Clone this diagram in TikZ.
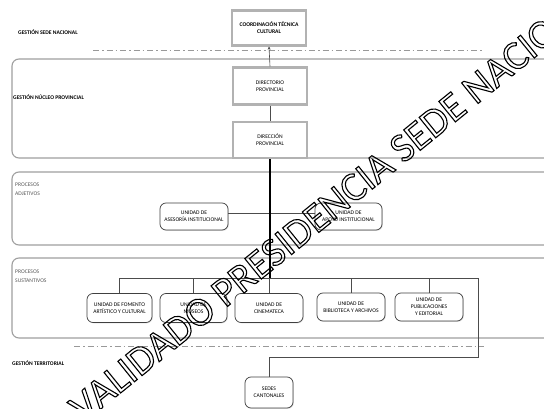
\documentclass[tikz,border=0pt]{standalone}
\usepackage{fontspec}
\setmainfont{Carlito}
\usetikzlibrary{shadows,arrows.meta}
\begin{document}
\begin{tikzpicture}[x=1pt,y=-1pt,
  hdr/.style={draw=gray!60, line width=2.2pt, fill=white, minimum width=74pt, minimum height=35pt,
    inner sep=1pt, align=center, font=\fontsize{5.6}{7}\selectfont,
    drop shadow={shadow xshift=1.2pt, shadow yshift=-1.2pt, opacity=0.35}},
  unit/.style={draw=black!75, line width=0.7pt, rounded corners=6pt, fill=white, minimum width=67pt,
    minimum height=29pt, inner sep=1pt, align=center, font=\fontsize{5.6}{7}\selectfont,
    drop shadow={shadow xshift=0.8pt, shadow yshift=-0.8pt, opacity=0.25}},
  panel/.style={draw=gray!75, line width=1.1pt, rounded corners=7pt},
  dashdot/.style={draw=gray!80, line width=0.8pt, dash pattern=on 6pt off 3pt on 1.5pt off 3pt},
  conn/.style={draw=gray!60!black, line width=0.6pt},
  mainline/.style={draw=black, line width=1.1pt},
  lbl/.style={anchor=west, inner sep=0pt, font=\bfseries\fontsize{5.6}{7}\selectfont},
  plbl/.style={anchor=west, inner sep=0pt, align=left, text=gray!70!black, font=\fontsize{5.6}{9}\selectfont},
  wmark/.style={anchor=west, inner sep=0pt, rotate=39, font=\fontsize{41}{41}\selectfont}
]
\useasboundingbox (0,0) rectangle (544,409);
\fill[white] (0,0) rectangle (544,409);

% panels
\draw[panel] (12,59) rectangle (570,158);
\draw[panel] (12,172) rectangle (570,245);
\draw[panel] (12,258) rectangle (570,338);

% dash-dot separators
\draw[dashdot] (93,50) -- (484,50);
\draw[dashdot] (74,346) -- (484,346);

% labels
\node[lbl] (lsede) at (18,32) {GESTIÓN SEDE NACIONAL};
\node[lbl] (lnucleo) at (13,97) {GESTIÓN NÚCLEO PROVINCIAL};
\node[plbl] (ladj) at (15,189) {PROCESOS\\ADJETIVOS};
\node[plbl] (lsus) at (15,276) {PROCESOS\\SUSTANTIVOS};
\node[lbl] (lterr) at (12,363) {GESTIÓN TERRITORIAL};

% nodes
\node[hdr, font=\bfseries\fontsize{5.6}{7}\selectfont] (coord) at (269,28) {COORDINACIÓN TÉCNICA\\CULTURAL};
\node[hdr, minimum height=37pt] (directorio) at (270,86) {DIRECTORIO\\PROVINCIAL};
\node[hdr, minimum height=36pt] (direccion) at (270,140) {DIRECCIÓN\\PROVINCIAL};

\node[unit, minimum width=68pt, minimum height=27pt] (asesoria) at (194,216.5) {UNIDAD DE\\ASESORÍA INSTITUCIONAL};
\node[unit, minimum height=27pt] (apoyo) at (348.5,216.5) {UNIDAD DE\\APOYO INSTITUCIONAL};

\node[unit, minimum width=65pt] (fomento) at (119.5,308) {UNIDAD DE FOMENTO\\ARTÍSTICO Y CULTURAL};
\node[unit] (museos) at (193.5,308) {UNIDAD DE\\MUSEOS};
\node[unit, minimum width=68pt] (cinemateca) at (269,308) {UNIDAD DE\\CINEMATECA};
\node[unit, minimum width=68pt, minimum height=28pt] (biblioteca) at (351,307) {UNIDAD DE\\BIBLIOTECA Y ARCHIVOS};
\node[unit, minimum width=68pt, minimum height=28pt] (publicaciones) at (429,307) {UNIDAD DE\\PUBLICACIONES\\Y EDITORIAL};

\node[unit, minimum width=48pt, minimum height=31pt] (sedes) at (269,392.5) {SEDES\\CANTONALES};

% connectors
\coordinate (busR) at (478,278);
\coordinate (busB) at (478,357);
\draw[conn, -{Stealth[length=3pt,width=3pt]}] (directorio.north) -- (coord.south);
\draw[conn] (directorio.south) -- (direccion.north);
\draw[conn] ([yshift=3pt]asesoria.east) -- ([yshift=3pt]apoyo.west);
\draw[conn] (fomento.north) |- (busR) -- (busB) -| (sedes.north);
\draw[conn] (museos.north) -- (museos.north |- busR);
\draw[conn] (cinemateca.north) -- (cinemateca.north |- busR);
\draw[conn] (biblioteca.north) -- (biblioteca.north |- busR);
\draw[conn] (publicaciones.north) -- (publicaciones.north |- busR);
\draw[mainline] (direccion.south) -- (direccion.south |- busR);

% watermark
\node[wmark] (wm) at (75,413) {\special{pdf:literal 1 Tr 1.1 w}VALIDADO PRESIDENCIA SEDE NACIONAL\special{pdf:literal 0 Tr}};
\end{tikzpicture}
\end{document}
